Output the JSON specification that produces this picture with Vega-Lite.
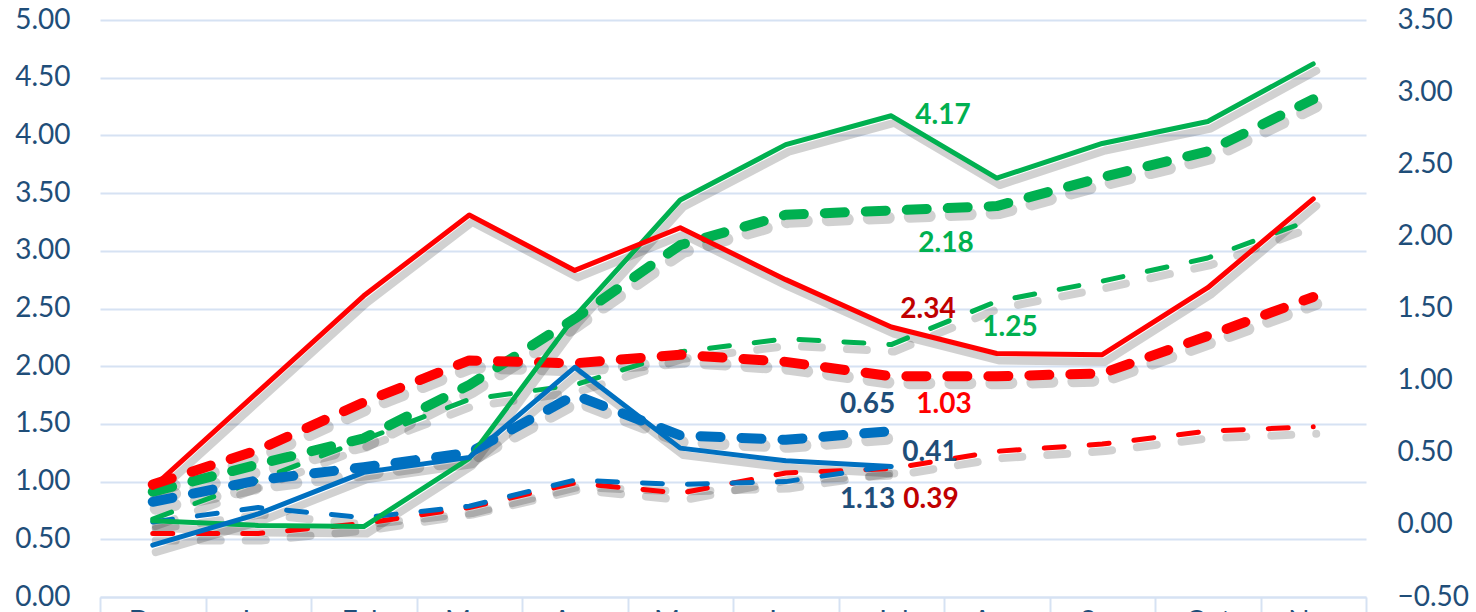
{
  "$schema": "https://vega.github.io/schema/vega-lite/v6.json",
  "width": 1266,
  "height": 577,
  "autosize": {"type": "none"},
  "padding": {"left": 100, "top": 20, "right": 110, "bottom": 15},
  "background": "white",
  "config": {"view": {"stroke": null}, "font": "Lato"},
  "data": {"values": [
    {"period": "Dec", "series": "A", "kind": "level", "value": 0.66},
    {"period": "Jan", "series": "A", "kind": "level", "value": 0.62},
    {"period": "Feb", "series": "A", "kind": "level", "value": 0.61},
    {"period": "Mar", "series": "A", "kind": "level", "value": 1.2},
    {"period": "Apr", "series": "A", "kind": "level", "value": 2.43},
    {"period": "May", "series": "A", "kind": "level", "value": 3.44},
    {"period": "Jun", "series": "A", "kind": "level", "value": 3.92},
    {"period": "Jul", "series": "A", "kind": "level", "value": 4.17},
    {"period": "Aug", "series": "A", "kind": "level", "value": 3.63},
    {"period": "Sep", "series": "A", "kind": "level", "value": 3.93},
    {"period": "Oct", "series": "A", "kind": "level", "value": 4.12},
    {"period": "Nov", "series": "A", "kind": "level", "value": 4.62},
    {"period": "Dec", "series": "A", "kind": "trend", "value": 0.23},
    {"period": "Jan", "series": "A", "kind": "trend", "value": 0.42},
    {"period": "Feb", "series": "A", "kind": "trend", "value": 0.6},
    {"period": "Mar", "series": "A", "kind": "trend", "value": 0.97},
    {"period": "Apr", "series": "A", "kind": "trend", "value": 1.43},
    {"period": "May", "series": "A", "kind": "trend", "value": 1.94},
    {"period": "Jun", "series": "A", "kind": "trend", "value": 2.15},
    {"period": "Jul", "series": "A", "kind": "trend", "value": 2.18},
    {"period": "Aug", "series": "A", "kind": "trend", "value": 2.21},
    {"period": "Sep", "series": "A", "kind": "trend", "value": 2.41},
    {"period": "Oct", "series": "A", "kind": "trend", "value": 2.59},
    {"period": "Nov", "series": "A", "kind": "trend", "value": 2.95},
    {"period": "Dec", "series": "A", "kind": "change", "value": 0.04},
    {"period": "Jan", "series": "A", "kind": "change", "value": 0.31},
    {"period": "Feb", "series": "A", "kind": "change", "value": 0.59},
    {"period": "Mar", "series": "A", "kind": "change", "value": 0.87},
    {"period": "Apr", "series": "A", "kind": "change", "value": 0.97},
    {"period": "May", "series": "A", "kind": "change", "value": 1.2},
    {"period": "Jun", "series": "A", "kind": "change", "value": 1.29},
    {"period": "Jul", "series": "A", "kind": "change", "value": 1.25},
    {"period": "Aug", "series": "A", "kind": "change", "value": 1.55},
    {"period": "Sep", "series": "A", "kind": "change", "value": 1.69},
    {"period": "Oct", "series": "A", "kind": "change", "value": 1.85},
    {"period": "Nov", "series": "A", "kind": "change", "value": 2.12},
    {"period": "Dec", "series": "B", "kind": "level", "value": 0.95},
    {"period": "Jan", "series": "B", "kind": "level", "value": 1.78},
    {"period": "Feb", "series": "B", "kind": "level", "value": 2.61},
    {"period": "Mar", "series": "B", "kind": "level", "value": 3.31},
    {"period": "Apr", "series": "B", "kind": "level", "value": 2.83},
    {"period": "May", "series": "B", "kind": "level", "value": 3.2},
    {"period": "Jun", "series": "B", "kind": "level", "value": 2.75},
    {"period": "Jul", "series": "B", "kind": "level", "value": 2.34},
    {"period": "Aug", "series": "B", "kind": "level", "value": 2.11},
    {"period": "Sep", "series": "B", "kind": "level", "value": 2.1},
    {"period": "Oct", "series": "B", "kind": "level", "value": 2.68},
    {"period": "Nov", "series": "B", "kind": "level", "value": 3.45},
    {"period": "Dec", "series": "B", "kind": "trend", "value": 0.28},
    {"period": "Jan", "series": "B", "kind": "trend", "value": 0.52},
    {"period": "Feb", "series": "B", "kind": "trend", "value": 0.85},
    {"period": "Mar", "series": "B", "kind": "trend", "value": 1.14},
    {"period": "Apr", "series": "B", "kind": "trend", "value": 1.12},
    {"period": "May", "series": "B", "kind": "trend", "value": 1.18},
    {"period": "Jun", "series": "B", "kind": "trend", "value": 1.13},
    {"period": "Jul", "series": "B", "kind": "trend", "value": 1.03},
    {"period": "Aug", "series": "B", "kind": "trend", "value": 1.03},
    {"period": "Sep", "series": "B", "kind": "trend", "value": 1.05},
    {"period": "Oct", "series": "B", "kind": "trend", "value": 1.31},
    {"period": "Nov", "series": "B", "kind": "trend", "value": 1.58},
    {"period": "Dec", "series": "B", "kind": "change", "value": -0.06},
    {"period": "Jan", "series": "B", "kind": "change", "value": -0.06},
    {"period": "Feb", "series": "B", "kind": "change", "value": 0.01},
    {"period": "Mar", "series": "B", "kind": "change", "value": 0.12},
    {"period": "Apr", "series": "B", "kind": "change", "value": 0.29},
    {"period": "May", "series": "B", "kind": "change", "value": 0.22},
    {"period": "Jun", "series": "B", "kind": "change", "value": 0.36},
    {"period": "Jul", "series": "B", "kind": "change", "value": 0.39},
    {"period": "Aug", "series": "B", "kind": "change", "value": 0.51},
    {"period": "Sep", "series": "B", "kind": "change", "value": 0.56},
    {"period": "Oct", "series": "B", "kind": "change", "value": 0.65},
    {"period": "Nov", "series": "B", "kind": "change", "value": 0.68},
    {"period": "Dec", "series": "C", "kind": "level", "value": 0.45},
    {"period": "Jan", "series": "C", "kind": "level", "value": 0.72},
    {"period": "Feb", "series": "C", "kind": "level", "value": 1.08},
    {"period": "Mar", "series": "C", "kind": "level", "value": 1.21},
    {"period": "Apr", "series": "C", "kind": "level", "value": 1.99},
    {"period": "May", "series": "C", "kind": "level", "value": 1.29},
    {"period": "Jun", "series": "C", "kind": "level", "value": 1.18},
    {"period": "Jul", "series": "C", "kind": "level", "value": 1.13},
    {"period": "Dec", "series": "C", "kind": "trend", "value": 0.16},
    {"period": "Jan", "series": "C", "kind": "trend", "value": 0.31},
    {"period": "Feb", "series": "C", "kind": "trend", "value": 0.4},
    {"period": "Mar", "series": "C", "kind": "trend", "value": 0.5},
    {"period": "Apr", "series": "C", "kind": "trend", "value": 0.9},
    {"period": "May", "series": "C", "kind": "trend", "value": 0.62},
    {"period": "Jun", "series": "C", "kind": "trend", "value": 0.59},
    {"period": "Jul", "series": "C", "kind": "trend", "value": 0.65},
    {"period": "Dec", "series": "C", "kind": "change", "value": 0.02},
    {"period": "Jan", "series": "C", "kind": "change", "value": 0.12},
    {"period": "Feb", "series": "C", "kind": "change", "value": 0.05},
    {"period": "Mar", "series": "C", "kind": "change", "value": 0.13},
    {"period": "Apr", "series": "C", "kind": "change", "value": 0.31},
    {"period": "May", "series": "C", "kind": "change", "value": 0.28},
    {"period": "Jun", "series": "C", "kind": "change", "value": 0.3},
    {"period": "Jul", "series": "C", "kind": "change", "value": 0.41}
  ]},
  "encoding": {
    "x": {
      "field": "period", "type": "ordinal", "sort": null, "bandPosition": 0.5,
      "scale": {"type": "band", "paddingInner": 0, "paddingOuter": 0},
      "axis": {
        "title": null, "tickBand": "extent", "tickSize": 20, "tickColor": "#D6E2F3", "tickWidth": 2,
        "domainColor": "#D6E2F3", "domainWidth": 2, "labelFontSize": 28, "labelColor": "#1F4E79",
        "labelPadding": -9, "labelAngle": 0, "grid": false
      }
    },
    "color": {"field": "series", "type": "nominal", "legend": null,
      "scale": {"domain": ["A", "B", "C"], "range": ["#00B050", "#FF0000", "#0070C0"]}},
    "detail": {"field": "series", "type": "nominal"}
  },
  "layer": [
    {
      "transform": [{"filter": "datum.kind === 'level'"}],
      "mark": {"type": "line", "opacity": 0.18, "strokeWidth": 8, "xOffset": 3, "yOffset": 7, "strokeCap": "round", "strokeJoin": "round"},
      "encoding": {"color": {"value": "#000000"}, "y": {"field": "value", "type": "quantitative", "axis": null, "scale": {"domain": [0, 5], "nice": false, "zero": false}}}
    },
    {
      "transform": [{"filter": "datum.kind === 'trend'"}],
      "mark": {"type": "line", "opacity": 0.18, "strokeWidth": 12, "strokeDash": [20, 21], "xOffset": 3, "yOffset": 7, "strokeCap": "round", "strokeJoin": "round"},
      "encoding": {"color": {"value": "#000000"}, "y": {"field": "value", "type": "quantitative", "axis": null, "scale": {"domain": [-0.5, 3.5], "nice": false, "zero": false}}}
    },
    {
      "transform": [{"filter": "datum.kind === 'change'"}],
      "mark": {"type": "line", "opacity": 0.18, "strokeWidth": 8, "strokeDash": [20, 25], "xOffset": 3, "yOffset": 7, "strokeCap": "round", "strokeJoin": "round"},
      "encoding": {"color": {"value": "#000000"}, "y": {"field": "value", "type": "quantitative", "axis": null, "scale": {"domain": [-0.5, 3.5], "nice": false, "zero": false}}}
    },
    {
      "transform": [{"filter": "datum.kind === 'change'"}],
      "mark": {"type": "line", "strokeWidth": 5, "strokeDash": [20, 25], "strokeCap": "round", "strokeJoin": "round"},
      "encoding": {"y": {"field": "value", "type": "quantitative", "axis": null, "scale": {"domain": [-0.5, 3.5], "nice": false, "zero": false}}}
    },
    {
      "transform": [{"filter": "datum.kind === 'trend'"}],
      "mark": {"type": "line", "strokeWidth": 10, "strokeDash": [20, 21], "strokeCap": "round", "strokeJoin": "round"},
      "encoding": {"y": {"field": "value", "type": "quantitative",
        "scale": {"domain": [-0.5, 3.5], "nice": false, "zero": false},
        "axis": {"orient": "right", "title": null, "values": [-0.5, 0, 0.5, 1, 1.5, 2, 2.5, 3, 3.5], "format": ".2f",
          "labelFontSize": 28, "labelColor": "#1F4E79", "labelPadding": 31, "ticks": false, "domain": false, "grid": false}}}
    },
    {
      "transform": [{"filter": "datum.kind === 'level'"}],
      "mark": {"type": "line", "strokeWidth": 5, "strokeCap": "round", "strokeJoin": "round"},
      "encoding": {"y": {"field": "value", "type": "quantitative",
        "scale": {"domain": [0, 5], "nice": false, "zero": false},
        "axis": {"orient": "left", "title": null, "values": [0, 0.5, 1, 1.5, 2, 2.5, 3, 3.5, 4, 4.5, 5], "format": ".2f",
          "labelFontSize": 28, "labelColor": "#1F4E79", "labelPadding": 30, "ticks": false, "domain": false,
          "grid": true, "gridColor": "#D6E2F3", "gridWidth": 2, "zindex": 0}}}
    },
    {
      "transform": [{"filter": "datum.period === 'Jul' && datum.series === 'A' && datum.kind === 'level'"}],
      "mark": {"type": "text", "align": "left", "baseline": "middle", "dx": 24, "dy": 0, "fontSize": 28, "fontWeight": "bold"},
      "encoding": {"color": {"value": "#00B050"}, "text": {"field": "value", "format": ".2f"}, "y": {"field": "value", "type": "quantitative", "axis": null, "scale": {"domain": [0, 5], "nice": false, "zero": false}}}
    },
    {
      "transform": [{"filter": "datum.period === 'Jul' && datum.series === 'B' && datum.kind === 'level'"}],
      "mark": {"type": "text", "align": "left", "baseline": "middle", "dx": 9, "dy": -17, "fontSize": 28, "fontWeight": "bold"},
      "encoding": {"color": {"value": "#C00000"}, "text": {"field": "value", "format": ".2f"}, "y": {"field": "value", "type": "quantitative", "axis": null, "scale": {"domain": [0, 5], "nice": false, "zero": false}}}
    },
    {
      "transform": [{"filter": "datum.period === 'Jul' && datum.series === 'C' && datum.kind === 'level'"}],
      "mark": {"type": "text", "align": "right", "baseline": "middle", "dx": 4, "dy": 33, "fontSize": 28, "fontWeight": "bold"},
      "encoding": {"color": {"value": "#1F4E79"}, "text": {"field": "value", "format": ".2f"}, "y": {"field": "value", "type": "quantitative", "axis": null, "scale": {"domain": [0, 5], "nice": false, "zero": false}}}
    },
    {
      "transform": [{"filter": "datum.period === 'Jul' && datum.series === 'A' && datum.kind === 'trend'"}],
      "mark": {"type": "text", "align": "left", "baseline": "middle", "dx": 27, "dy": 34, "fontSize": 28, "fontWeight": "bold"},
      "encoding": {"color": {"value": "#00B050"}, "text": {"field": "value", "format": ".2f"}, "y": {"field": "value", "type": "quantitative", "axis": null, "scale": {"domain": [-0.5, 3.5], "nice": false, "zero": false}}}
    },
    {
      "transform": [{"filter": "datum.period === 'Jul' && datum.series === 'A' && datum.kind === 'change'"}],
      "mark": {"type": "text", "align": "left", "baseline": "middle", "dx": 91, "dy": -17, "fontSize": 28, "fontWeight": "bold"},
      "encoding": {"color": {"value": "#00B050"}, "text": {"field": "value", "format": ".2f"}, "y": {"field": "value", "type": "quantitative", "axis": null, "scale": {"domain": [-0.5, 3.5], "nice": false, "zero": false}}}
    },
    {
      "transform": [{"filter": "datum.period === 'Jul' && datum.series === 'B' && datum.kind === 'trend'"}],
      "mark": {"type": "text", "align": "left", "baseline": "middle", "dx": 25, "dy": 29, "fontSize": 28, "fontWeight": "bold"},
      "encoding": {"color": {"value": "#FF0000"}, "text": {"field": "value", "format": ".2f"}, "y": {"field": "value", "type": "quantitative", "axis": null, "scale": {"domain": [-0.5, 3.5], "nice": false, "zero": false}}}
    },
    {
      "transform": [{"filter": "datum.period === 'Jul' && datum.series === 'B' && datum.kind === 'change'"}],
      "mark": {"type": "text", "align": "left", "baseline": "middle", "dx": 12, "dy": 31, "fontSize": 28, "fontWeight": "bold"},
      "encoding": {"color": {"value": "#C00000"}, "text": {"field": "value", "format": ".2f"}, "y": {"field": "value", "type": "quantitative", "axis": null, "scale": {"domain": [-0.5, 3.5], "nice": false, "zero": false}}}
    },
    {
      "transform": [{"filter": "datum.period === 'Jul' && datum.series === 'C' && datum.kind === 'trend'"}],
      "mark": {"type": "text", "align": "right", "baseline": "middle", "dx": 4, "dy": -26, "fontSize": 28, "fontWeight": "bold"},
      "encoding": {"color": {"value": "#1F4E79"}, "text": {"field": "value", "format": ".2f"}, "y": {"field": "value", "type": "quantitative", "axis": null, "scale": {"domain": [-0.5, 3.5], "nice": false, "zero": false}}}
    },
    {
      "transform": [{"filter": "datum.period === 'Jul' && datum.series === 'C' && datum.kind === 'change'"}],
      "mark": {"type": "text", "align": "left", "baseline": "middle", "dx": 11, "dy": -13, "fontSize": 28, "fontWeight": "bold"},
      "encoding": {"color": {"value": "#1F4E79"}, "text": {"field": "value", "format": ".2f"}, "y": {"field": "value", "type": "quantitative", "axis": null, "scale": {"domain": [-0.5, 3.5], "nice": false, "zero": false}}}
    }
  ],
  "resolve": {"scale": {"y": "independent"}}
}
